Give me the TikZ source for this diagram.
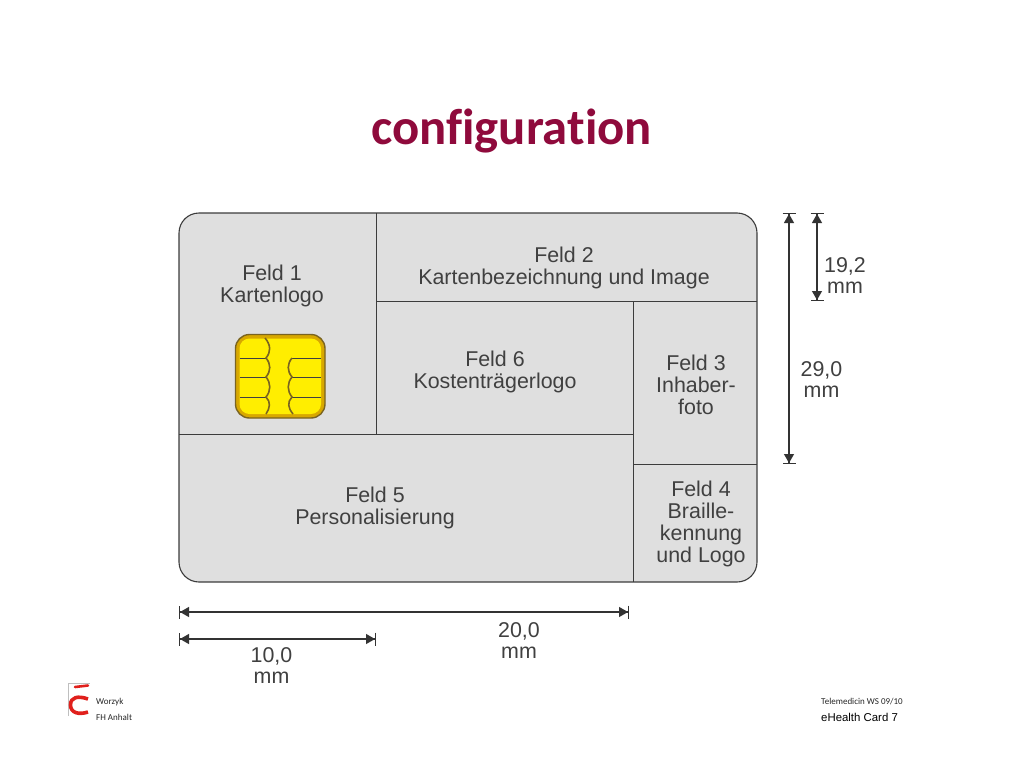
\documentclass[tikz,border=0pt]{standalone}
\usepackage{fontspec}
\setmainfont{Liberation Sans}
\newfontfamily\slidefont{Carlito}
\newfontfamily\titlefont[Ligatures=NoCommon]{Carlito}
\usetikzlibrary{arrows.meta}
\definecolor{titlered}{HTML}{8F0A3C}
\definecolor{cardgray}{HTML}{DFDFDF}
\definecolor{cardline}{HTML}{3C3C3C}
\definecolor{chipyellow}{HTML}{FFEE00}
\definecolor{chipgold}{HTML}{D8A800}
\definecolor{chipedge}{HTML}{7A6420}
\definecolor{logored}{HTML}{E0201C}
\tikzset{
  fieldtext/.style={align=center, text=black!75, font=\fontsize{21.4}{22}\selectfont},
  dimtext/.style={align=center, text=black!75, font=\fontsize{21.4}{21}\selectfont},
  dimline/.style={draw=black!80, line width=1.2pt, {Bar[width=13pt,line width=1pt]Triangle[length=9pt,width=10pt]}-{Triangle[length=9pt,width=10pt]Bar[width=13pt,line width=1pt]}},
  fieldline/.style={draw=cardline, line width=1pt},
  footertext/.style={anchor=west, inner sep=0pt, text=black!85},
}
\begin{document}
\begin{tikzpicture}[x=1pt, y=-1pt]
    \useasboundingbox (0,0) rectangle (1024,768);
    % Titel
    \node[text=titlered, font=\titlefont\bfseries\fontsize{50.7}{50.7}\selectfont] (title) at (511.5,131) {configuration};
    % Karte
    \draw[fill=cardgray, draw=cardline, line width=1.1pt, rounded corners=20pt] (179,213) rectangle (757,582);
    \draw[fieldline] (376.5,213) -- (376.5,434.5);
    \draw[fieldline] (376.5,301.5) -- (757,301.5);
    \draw[fieldline] (179,434.5) -- (633.5,434.5);
    \draw[fieldline] (633.5,301.5) -- (633.5,582);
    \draw[fieldline] (633.5,464.5) -- (757,464.5);
    % Felder
    \node[fieldtext] (feld1) at (272,286) {Feld 1\\Kartenlogo};
    \node[fieldtext] (feld2) at (564,268) {Feld 2\\Kartenbezeichnung und Image};
    \node[fieldtext] (feld3) at (696,385) {Feld 3\\Inhaber-\\foto};
    \node[fieldtext] (feld4) at (701,523.5) {Feld 4\\Braille-\\kennung\\und Logo};
    \node[fieldtext] (feld5) at (375,508) {Feld 5\\Personalisierung};
    \node[fieldtext] (feld6) at (495,372) {Feld 6\\Kostenträgerlogo};
    % Chip
    \draw[fill=chipgold, draw=chipedge, line width=1.4pt, rounded corners=14pt] (235.5,334.5) rectangle (325,418);
    \draw[fill=chipyellow, draw=none, rounded corners=10pt] (239.5,338.5) rectangle (321,414);
    \foreach \y in {358,377,397} {
        \draw[draw=black!75, line width=1pt] (239.5,\y) -- (266,\y);
    }
    \foreach \y in {358,377,397} {
        \draw[draw=black!75, line width=1pt] (292,\y) -- (320.5,\y);
    }
    \draw[draw=chipedge, line width=1.6pt] (265,338) .. controls (271,345) and (271,352) .. (266,358)
        .. controls (271,364) and (271,371) .. (266,377)
        .. controls (271,383) and (271,391) .. (266,397)
        .. controls (271,402) and (270,408) .. (266,414);
    \draw[draw=chipedge, line width=1.6pt] (292,358) .. controls (287,364) and (287,371) .. (292,377)
        .. controls (287,383) and (287,391) .. (292,397)
        .. controls (287,402) and (288,408) .. (293,414);
    % Masse
    \coordinate (h1a) at (789,213);
    \coordinate (h1b) at (789,464);
    \coordinate (h2a) at (817,213);
    \coordinate (h2b) at (817,301);
    \coordinate (b1a) at (179,612);
    \coordinate (b1b) at (629,612);
    \coordinate (b2a) at (179,639);
    \coordinate (b2b) at (376,639);
    \draw[dimline] (h1a) -- (h1b);
    \draw[dimline] (h2a) -- (h2b);
    \draw[dimline] (b1a) -- (b1b);
    \draw[dimline] (b2a) -- (b2b);
    \node[dimtext] (dim1) at (821.5,379.5) {29,0\\mm};
    \node[dimtext] (dim2) at (845,276) {19,2\\mm};
    \node[dimtext] (dim3) at (519,641) {20,0\\mm};
    \node[dimtext] (dim4) at (271.5,666) {10,0\\mm};
    % Logo
    \draw[draw=black!25, line width=0.5pt] (68.5,716) -- (68.5,683) -- (90,683);
    \draw[draw=logored, line width=2.6pt, line cap=round] (75,687) -- (88,685.5);
    \draw[draw=logored, line width=3.6pt] (88,699) .. controls (78,695.5) and (70.5,697) .. (70.5,705)
        .. controls (70.5,713) and (79,715) .. (88,712);
    % Fusszeile
    \node[footertext, font=\slidefont\fontsize{9}{9}\selectfont] (author) at (96,702) {Worzyk};
    \node[footertext, font=\slidefont\fontsize{9}{9}\selectfont] (school) at (96,717) {FH Anhalt};
    \node[footertext, font=\slidefont\fontsize{9}{9}\selectfont] (course) at (821,702) {Telemedicin WS 09/10};
    \node[footertext, text=black, font=\fontsize{11.4}{11.4}\selectfont] (page) at (821,717) {eHealth Card 7};
\end{tikzpicture}
\end{document}
